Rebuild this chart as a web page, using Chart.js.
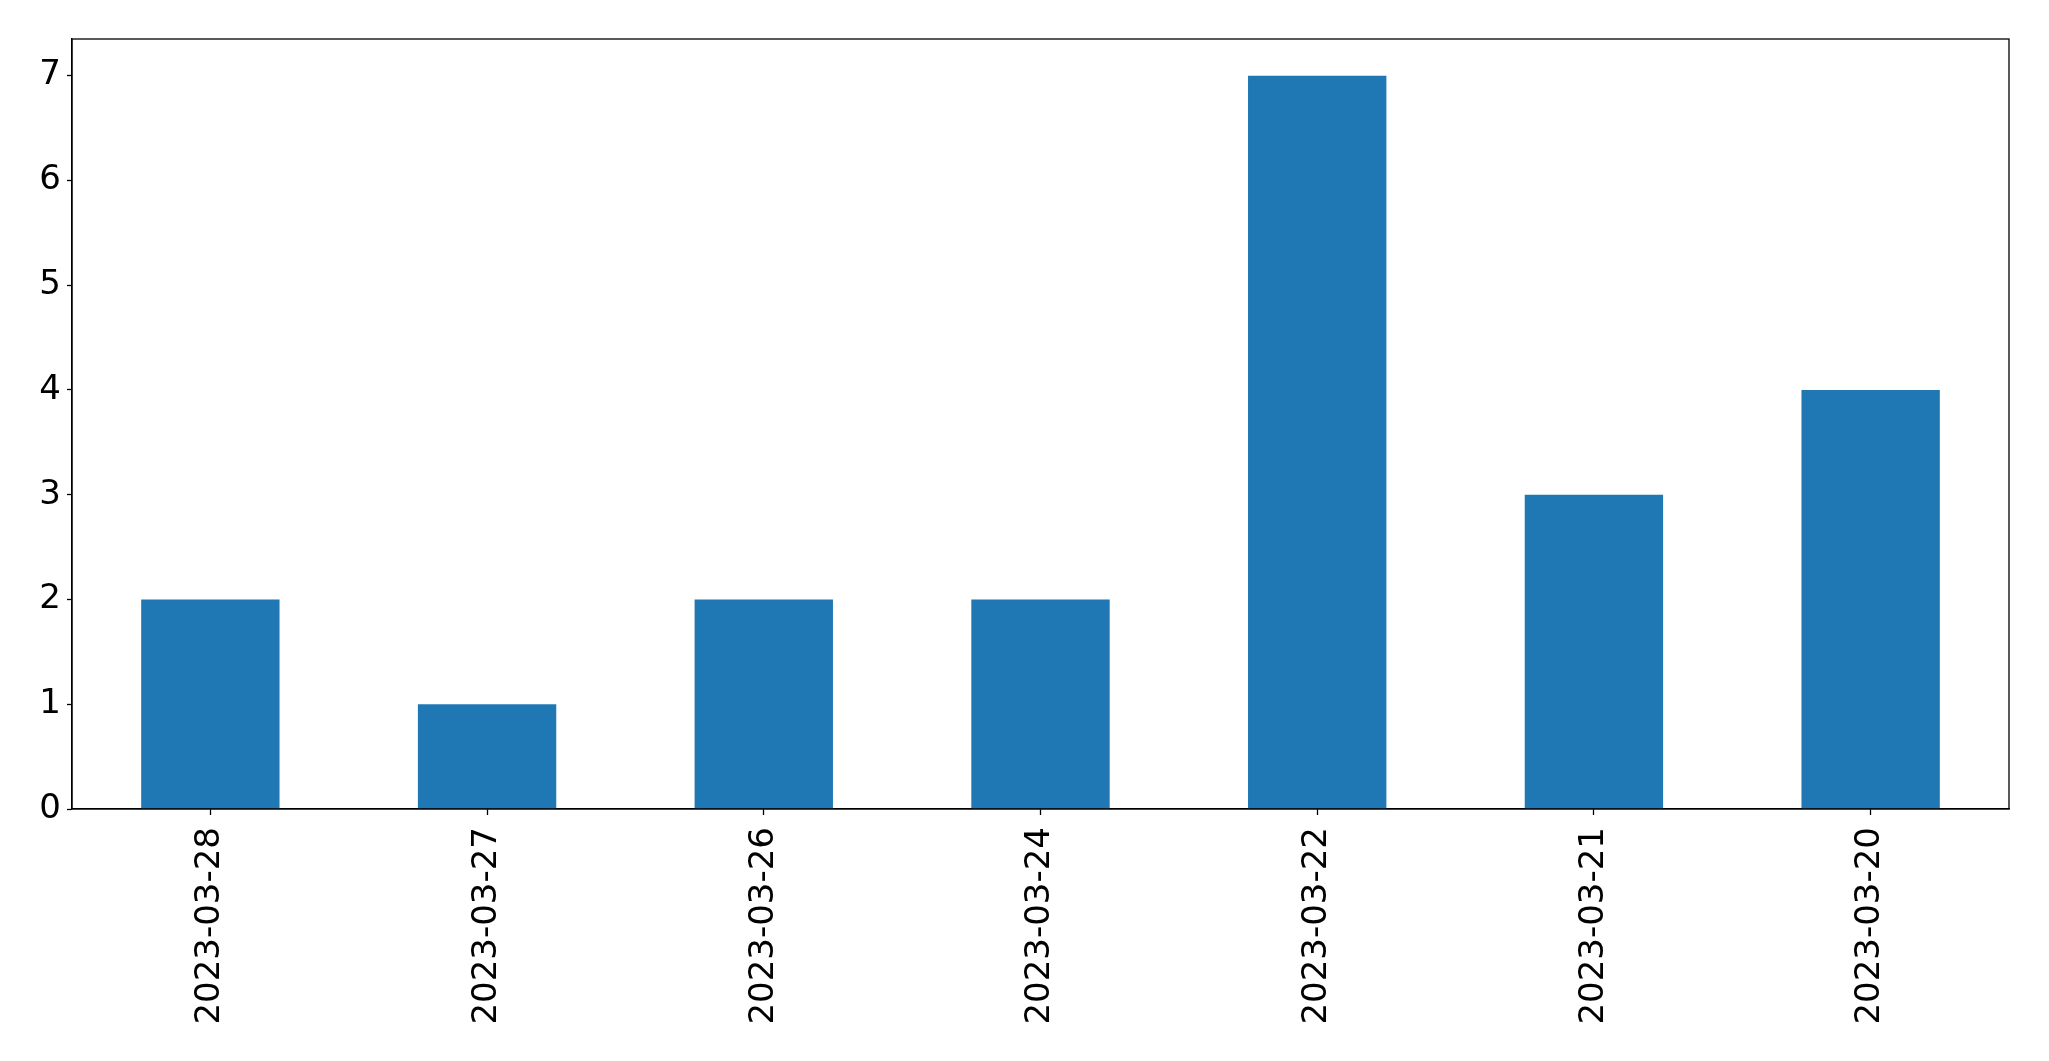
<!DOCTYPE html>
<html>
<head>
<meta charset="utf-8">
<script src="https://cdn.jsdelivr.net/npm/chart.js@4"></script>
<style>
  html, body { margin: 0; padding: 0; background: #fff; }
  #wrap { width: 2049px; height: 1061px; }
</style>
</head>
<body>
<div id="wrap"><canvas id="barChart"></canvas></div>
<script>
const datas = ["2023-03-28", "2023-03-27", "2023-03-26", "2023-03-24", "2023-03-22", "2023-03-21", "2023-03-20"];
const contagens = [2, 1, 2, 2, 7, 3, 4];
const yMax = 7.35;

// moldura completa em volta da area do grafico
const moldura = {
  id: 'moldura',
  afterDraw(chart) {
    const { ctx, chartArea: a } = chart;
    ctx.save();
    ctx.strokeStyle = '#000';
    ctx.lineWidth = 1.3;
    ctx.strokeRect(a.left, a.top, a.right - a.left, a.bottom - a.top);
    ctx.restore();
  }
};

const ctx = document.getElementById('barChart').getContext('2d');
new Chart(ctx, {
  type: 'bar',
  data: {
    labels: datas,
    datasets: [{
      data: contagens,
      backgroundColor: '#1f77b4',
      borderWidth: 0,
      barPercentage: 0.5,
      categoryPercentage: 1.0
    }]
  },
  options: {
    responsive: true,
    maintainAspectRatio: false,
    animation: false,
    layout: { padding: { top: 39, right: 40, left: 0, bottom: 0 } },
    plugins: {
      legend: { display: false },
      tooltip: { enabled: false }
    },
    scales: {
      x: {
        offset: true,
        grid: { display: true, drawOnChartArea: false, offset: false, tickLength: 6, color: '#000', tickWidth: 1.3 },
        border: { display: true, color: '#000', width: 1.3 },
        ticks: {
          color: '#000',
          font: { family: 'DejaVu Sans', size: 34 },
          minRotation: 90,
          maxRotation: 90,
          padding: 12,
          autoSkip: false
        },
        afterFit(scale) { scale.height = 1061 - 809; }
      },
      y: {
        min: 0,
        max: yMax,
        grid: { display: true, drawOnChartArea: false, tickLength: 5, color: '#000', tickWidth: 1.3 },
        border: { display: true, color: '#000', width: 1.3 },
        ticks: {
          stepSize: 1,
          includeBounds: false,
          color: '#000',
          font: { family: 'DejaVu Sans', size: 34 },
          padding: 6
        },
        afterFit(scale) { scale.width = 72; }
      }
    }
  },
  plugins: [moldura]
});
</script>
</body>
</html>
